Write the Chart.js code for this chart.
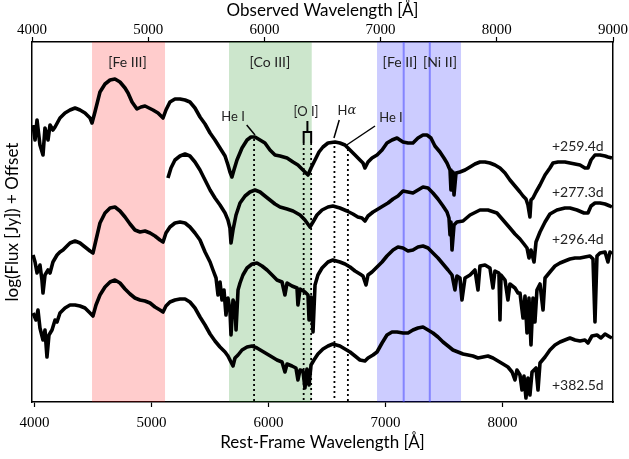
<!DOCTYPE html>
<html>
<head>
<meta charset="utf-8">
<script src="https://cdn.jsdelivr.net/npm/chart.js@4.4.1/dist/chart.umd.min.js"></script>
<style>
  html, body { margin: 0; padding: 0; background: #fff; }
  #wrap { width: 629px; height: 459px; }
</style>
</head>
<body>
<div id="wrap"><canvas id="spectra" width="629" height="459"></canvas></div>
<script>
// rest-frame wavelength (A) and log flux + offset for each epoch
var wave259 = [3987,4004,4021,4046,4072,4089,4115,4132,4157,4175,4217,4260,4303,4346,4388,4431,4474,4491,4516,4559,
  4602,4645,4687,4730,4773,4799,4833,4875,4910,4944,4978,5012,5055,5098,5123,5157,5200,5243,5286,5328,
  5371,5414,5457,5500,5542,5585,5628,5653,5670,5687,5704,5730,5773,5816,5850,5884,5927,5969,6012,6055,
  6098,6158,6209,6251,6294,6337,6363,6397,6431,6465,6508,6568,6610,6653,6696,6739,6781,6807,6824,6850,
  6884,6927,6970,7012,7055,7098,7123,7149,7192,7234,7277,7320,7354,7388,7422,7465,7499,7525,7551,7559,
  7576,7585,7602,7636,7679,7722,7764,7807,7850,7892,7935,7978,8021,8063,8106,8149,8175,8200,8217,8234,
  8243,8260,8286,8320,8363,8405,8431,8474,8533,8576,8619,8662,8704,8730,8756,8790,8833,8876,8901,8935];
var flux259 = [2.77,2.62,2.82,2.57,2.47,2.74,2.62,2.77,2.72,2.75,2.84,2.89,2.92,2.94,2.92,2.89,2.84,2.79,2.90,3.10,
  3.18,3.22,3.23,3.20,3.14,3.09,3.00,2.93,2.95,2.96,2.94,2.92,2.89,2.84,2.92,3.00,3.03,3.03,3.02,3.00,
  2.94,2.85,2.78,2.69,2.62,2.54,2.46,2.37,2.30,2.25,2.32,2.42,2.54,2.62,2.65,2.65,2.62,2.59,2.52,2.47,
  2.46,2.44,2.40,2.37,2.32,2.27,2.34,2.42,2.50,2.55,2.59,2.60,2.59,2.57,2.52,2.47,2.42,2.39,2.34,2.40,
  2.44,2.47,2.52,2.59,2.62,2.64,2.62,2.60,2.59,2.59,2.64,2.67,2.67,2.64,2.56,2.50,2.44,2.39,2.32,2.12,
  2.30,2.07,2.29,2.30,2.32,2.35,2.38,2.40,2.40,2.39,2.37,2.34,2.29,2.22,2.16,2.10,2.06,2.03,1.97,1.85,
  2.02,2.04,2.10,2.17,2.27,2.34,2.39,2.40,2.40,2.39,2.38,2.37,2.34,2.34,2.42,2.47,2.47,2.46,2.45,2.44];

var wave277 = [5140,5166,5200,5243,5286,5328,5371,5414,5457,5500,5542,5585,5628,5653,5670,5679,5696,5722,5756,5799,
  5841,5884,5927,5969,6012,6055,6098,6158,6209,6269,6311,6354,6380,6414,6457,6508,6550,6610,6670,6721,
  6763,6798,6824,6850,6893,6936,6978,7021,7064,7106,7149,7192,7234,7277,7320,7363,7405,7448,7491,7525,
  7542,7551,7559,7568,7585,7610,7662,7722,7807,7875,7952,8004,8063,8106,8149,8183,8209,8226,8243,8269,
  8286,8320,8363,8405,8465,8533,8576,8636,8696,8730,8756,8790,8833,8876,8918,8935];
var flux277 = [2.24,2.34,2.42,2.46,2.48,2.46,2.40,2.32,2.22,2.12,2.04,1.97,1.89,1.82,1.74,1.59,1.72,1.87,1.99,2.06,
  2.10,2.12,2.10,2.06,2.02,1.98,1.95,1.93,1.91,1.87,1.82,1.75,1.80,1.87,1.92,1.95,1.96,1.94,1.91,1.88,
  1.85,1.84,1.81,1.86,1.90,1.93,1.96,1.99,2.03,2.06,2.11,2.10,2.09,2.12,2.15,2.14,2.09,2.03,1.96,1.90,
  1.84,1.67,1.80,1.52,1.77,1.80,1.81,1.87,1.92,1.92,1.89,1.82,1.74,1.68,1.63,1.58,1.54,1.44,1.52,1.40,
  1.60,1.70,1.80,1.88,1.92,1.94,1.94,1.92,1.89,1.89,1.96,1.99,1.99,1.98,1.96,1.95];

var wave296 = [3987,4004,4021,4046,4063,4072,4089,4115,4132,4157,4192,4217,4243,4277,4303,4346,4388,4431,4474,4499,
  4525,4559,4602,4645,4687,4730,4773,4816,4858,4901,4944,4987,5029,5072,5098,5123,5157,5200,5243,5286,
  5328,5371,5414,5457,5500,5525,5551,5568,5585,5602,5619,5636,5653,5670,5679,5696,5713,5722,5739,5756,
  5781,5816,5859,5901,5944,5987,6030,6072,6115,6140,6158,6200,6243,6251,6269,6311,6337,6346,6363,6380,
  6397,6422,6457,6508,6550,6610,6653,6696,6739,6781,6807,6833,6850,6884,6927,6970,7012,7064,7106,7149,
  7192,7234,7277,7320,7363,7405,7448,7491,7534,7568,7593,7610,7636,7653,7679,7722,7764,7790,7807,7850,
  7892,7918,7935,7969,7978,7987,8021,8046,8063,8106,8132,8149,8175,8192,8209,8226,8243,8260,8277,8294,
  8320,8346,8363,8405,8448,8491,8533,8576,8619,8662,8704,8747,8773,8790,8807,8833,8876,8901,8918,8935];
var flux296 = [1.47,1.40,1.29,1.37,1.22,1.09,1.27,1.32,1.29,1.40,1.47,1.50,1.52,1.56,1.59,1.61,1.59,1.55,1.51,1.49,
  1.62,1.79,1.89,1.94,1.95,1.91,1.85,1.78,1.72,1.70,1.71,1.69,1.66,1.62,1.60,1.69,1.75,1.79,1.80,1.79,
  1.75,1.69,1.62,1.50,1.40,1.32,1.24,1.07,1.20,1.02,1.12,0.87,1.04,0.92,0.67,1.02,0.97,0.72,1.12,1.19,
  1.27,1.34,1.38,1.39,1.36,1.32,1.27,1.22,1.20,1.07,1.19,1.16,1.14,0.97,1.13,1.10,1.07,0.82,1.05,0.70,
  1.17,1.27,1.34,1.40,1.42,1.40,1.38,1.35,1.31,1.28,1.26,1.17,1.27,1.30,1.35,1.40,1.46,1.52,1.55,1.54,
  1.51,1.52,1.55,1.56,1.54,1.49,1.44,1.38,1.32,1.27,1.12,1.26,1.24,1.02,1.24,1.27,1.32,1.12,1.36,1.37,
  1.34,1.14,1.31,1.29,0.82,1.27,1.22,1.02,1.18,1.14,1.09,1.09,0.84,1.06,0.69,1.04,0.57,1.04,0.80,1.12,
  1.18,0.92,1.24,1.30,1.36,1.39,1.41,1.43,1.44,1.44,1.45,1.46,1.43,0.80,1.46,1.49,1.50,1.40,1.50,1.48];

var wave382 = [3987,4012,4029,4046,4072,4089,4106,4123,4149,4175,4192,4217,4260,4303,4346,4388,4431,4474,4499,4525,
  4559,4602,4645,4687,4730,4773,4816,4858,4901,4944,4987,5029,5072,5098,5123,5157,5200,5243,5286,5328,
  5371,5414,5457,5500,5542,5585,5628,5653,5670,5696,5713,5739,5773,5816,5859,5901,5944,5987,6030,6072,
  6115,6140,6158,6200,6234,6251,6269,6294,6311,6328,6346,6363,6388,6422,6465,6508,6550,6610,6653,6696,
  6739,6781,6824,6850,6893,6927,6970,7012,7055,7098,7149,7192,7234,7277,7320,7363,7405,7448,7491,7534,
  7576,7619,7662,7705,7747,7790,7833,7875,7918,7961,8004,8046,8081,8106,8123,8149,8166,8183,8200,8217,
  8234,8252,8286,8303,8320,8363,8405,8448,8491,8533,8576,8619,8662,8704,8730,8764,8807,8841,8876,8918,
  8935];
var flux382 = [0.89,0.82,0.92,0.74,0.62,0.72,0.45,0.67,0.72,0.82,0.80,0.89,0.94,0.97,0.97,0.96,0.94,0.89,0.86,0.97,
  1.07,1.15,1.20,1.22,1.19,1.13,1.08,1.04,1.02,1.01,0.99,0.95,0.92,0.90,0.96,1.00,1.02,1.03,1.03,1.00,
  0.94,0.85,0.77,0.68,0.61,0.55,0.50,0.46,0.42,0.36,0.44,0.47,0.52,0.55,0.56,0.54,0.51,0.48,0.45,0.42,
  0.40,0.30,0.38,0.36,0.34,0.22,0.32,0.31,0.14,0.33,0.17,0.37,0.42,0.48,0.53,0.56,0.58,0.56,0.53,0.50,
  0.46,0.42,0.41,0.44,0.47,0.50,0.59,0.67,0.70,0.70,0.69,0.69,0.72,0.74,0.75,0.72,0.69,0.65,0.60,0.56,
  0.52,0.50,0.48,0.47,0.46,0.44,0.45,0.46,0.44,0.41,0.38,0.35,0.30,0.22,0.32,0.27,0.12,0.26,0.04,0.24,
  0.07,0.30,0.34,0.12,0.39,0.45,0.52,0.57,0.60,0.62,0.64,0.62,0.61,0.62,0.59,0.66,0.67,0.64,0.68,0.65,
  0.64];

var epochs = ['+259.4d', '+277.3d', '+296.4d', '+382.5d'];
var epochLabelFlux = [2.56, 2.10, 1.63, 0.17];

// shaded regions (rest wavelength)
var bandStart = [4491, 5662, 6927];
var bandEnd = [5115, 6369, 7645];

// [Fe II] and [Ni II] line centres
var ionNames = ['[Fe II]', '[Ni II]'];
var ionWave = [7155, 7378];

// identified lines, dotted
var idWave = [5876, 6300, 6364, 6563, 6678];
var idTop = [2.63, 2.59, 2.59, 2.56, 2.53];

var restTicks = [4000, 5000, 6000, 7000, 8000];
var obsTicks = [4000, 5000, 6000, 7000, 8000, 9000];

function pts(w, f) {
  return w.map(function(v, i) { return {x: v, y: f[i]}; });
}

var lineFont = '13px Lato';

var decor = {
  id: 'decor',
  beforeDatasetsDraw: function(chart) {
    var ctx = chart.ctx, a = chart.chartArea, x = chart.scales.x, y = chart.scales.y;
    var fills = ['rgba(255,0,0,0.2)', 'rgba(0,128,0,0.2)', 'rgba(0,0,255,0.2)'];
    ctx.save();
    ctx.beginPath();
    ctx.rect(a.left, a.top, a.right - a.left, a.bottom - a.top);
    ctx.clip();
    bandStart.forEach(function(s, i) {
      var x0 = x.getPixelForValue(s), x1 = x.getPixelForValue(bandEnd[i]);
      ctx.fillStyle = fills[i];
      ctx.fillRect(x0, a.top, x1 - x0, a.bottom - a.top);
    });
    ctx.strokeStyle = 'rgba(60,60,255,0.5)';
    ctx.lineWidth = 2;
    ionWave.forEach(function(w) {
      var px = x.getPixelForValue(w);
      ctx.beginPath(); ctx.moveTo(px, a.top); ctx.lineTo(px, a.bottom); ctx.stroke();
    });
    ctx.strokeStyle = '#000';
    ctx.lineWidth = 1.8;
    ctx.setLineDash([2, 3]);
    idWave.forEach(function(w, i) {
      var px = x.getPixelForValue(w);
      ctx.beginPath(); ctx.moveTo(px, y.getPixelForValue(idTop[i])); ctx.lineTo(px, a.bottom); ctx.stroke();
    });
    ctx.restore();
  },
  afterDatasetsDraw: function(chart) {
    var ctx = chart.ctx, x = chart.scales.x, y = chart.scales.y;
    function X(v) { return x.getPixelForValue(v); }
    function Y(v) { return y.getPixelForValue(v); }
    ctx.save();
    ctx.fillStyle = '#222';
    ctx.textAlign = 'center';
    ctx.textBaseline = 'middle';
    ctx.font = '14px Lato';
    ctx.fillText('[Fe III]', X(4794), Y(3.40));
    ctx.fillText('[Co III]', X(6012), Y(3.40));
    ctx.fillText(ionNames[0], X(7123), Y(3.40));
    ctx.fillText(ionNames[1], X(7465), Y(3.40));

    // line ids with leaders
    ctx.font = lineFont;
    ctx.fillText('He I', X(5696), Y(2.85));
    ctx.fillText('[O I]', X(6320), Y(2.90));
    ctx.fillText('He I', X(7046), Y(2.84));
    var hw = ctx.measureText('H').width;
    ctx.font = 'italic 13px "DejaVu Serif"';
    var aw = ctx.measureText('\u03b1').width;
    ctx.textAlign = 'left';
    ctx.fillText('\u03b1', X(6670) - (hw + aw) / 2 + hw, Y(2.91));
    ctx.font = lineFont;
    ctx.fillText('H', X(6670) - (hw + aw) / 2, Y(2.91));

    ctx.strokeStyle = '#000';
    ctx.lineWidth = 1.5;
    var leaders = [[5813, 2.77, 5884, 2.67], [6604, 2.82, 6559, 2.64], [6910, 2.76, 6668, 2.57]];
    leaders.forEach(function(l) {
      ctx.beginPath(); ctx.moveTo(X(l[0]), Y(l[1])); ctx.lineTo(X(l[2]), Y(l[3])); ctx.stroke();
    });
    // [O I] doublet bracket
    ctx.lineWidth = 2;
    ctx.beginPath();
    ctx.moveTo(X(6332), Y(2.81)); ctx.lineTo(X(6332), Y(2.70));
    ctx.moveTo(X(6300), Y(2.59)); ctx.lineTo(X(6300), Y(2.70)); ctx.lineTo(X(6364), Y(2.70)); ctx.lineTo(X(6364), Y(2.59));
    ctx.stroke();

    ctx.font = '14px Lato';
    ctx.textAlign = 'left';
    epochs.forEach(function(t, i) {
      ctx.fillText(t, X(8422), Y(epochLabelFlux[i]));
    });
    ctx.restore();
  }
};

function axisTicks(list) {
  return function(s) { s.ticks = list.map(function(v) { return {value: v}; }); };
}

var tickFont = {family: 'Liberation Serif', size: 15};
var titleFont = {family: 'Lato', size: 17};

var ctx = document.getElementById('spectra').getContext('2d');
var specChart = new Chart(ctx, {
  type: 'line',
  data: {
    datasets: [
      {label: epochs[0], data: pts(wave259, flux259)},
      {label: epochs[1], data: pts(wave277, flux277)},
      {label: epochs[2], data: pts(wave296, flux296)},
      {label: epochs[3], data: pts(wave382, flux382)}
    ]
  },
  options: {
    responsive: false,
    animation: false,
    devicePixelRatio: 1,
    parsing: false,
    layout: {padding: 0},
    elements: {
      line: {borderColor: '#000', borderWidth: 3.6, tension: 0, fill: false, borderJoinStyle: 'round'},
      point: {radius: 0}
    },
    plugins: {legend: {display: false}, tooltip: {enabled: false}},
    scales: {
      x: {
        type: 'linear', position: 'bottom', min: 3978, max: 8944,
        afterBuildTicks: axisTicks(restTicks),
        afterFit: function(s) { s.height = 57; },
        ticks: {font: tickFont, color: '#000', padding: 7, maxRotation: 0, callback: function(v) { return String(v); }},
        grid: {drawOnChartArea: false, drawTicks: true, tickLength: 5, color: '#000', tickWidth: 1.2},
        border: {display: true, color: '#000', width: 1.5},
        title: {display: true, text: 'Rest-Frame Wavelength [\u00c5]', font: titleFont, color: '#000', padding: {top: 0, bottom: 6}}
      },
      x2: {
        type: 'linear', position: 'top', min: 4000, max: 9000,
        afterBuildTicks: axisTicks(obsTicks),
        afterFit: function(s) { s.height = 42; },
        ticks: {font: tickFont, color: '#000', padding: -2, maxRotation: 0, callback: function(v) { return String(v); }},
        grid: {drawOnChartArea: false, drawTicks: true, tickLength: 5, color: '#000', tickWidth: 1.2},
        border: {display: true, color: '#000', width: 1.5},
        title: {display: true, text: 'Observed Wavelength [\u00c5]', font: titleFont, color: '#000', padding: {top: 0, bottom: 0}}
      },
      y: {
        type: 'linear', position: 'left', min: 0, max: 3.6,
        afterFit: function(s) { s.width = 32; },
        ticks: {display: false},
        grid: {drawOnChartArea: false, drawTicks: false},
        border: {display: true, color: '#000', width: 1.5},
        title: {display: true, text: 'log(Flux [Jy]) + Offset', font: titleFont, color: '#000', padding: {top: 2, bottom: 0}}
      },
      y2: {
        type: 'linear', position: 'right', min: 0, max: 3.6,
        afterFit: function(s) { s.width = 16; },
        ticks: {display: false},
        grid: {drawOnChartArea: false, drawTicks: false},
        border: {display: true, color: '#000', width: 1.5}
      }
    }
  },
  plugins: [decor]
});
</script>
</body>
</html>
